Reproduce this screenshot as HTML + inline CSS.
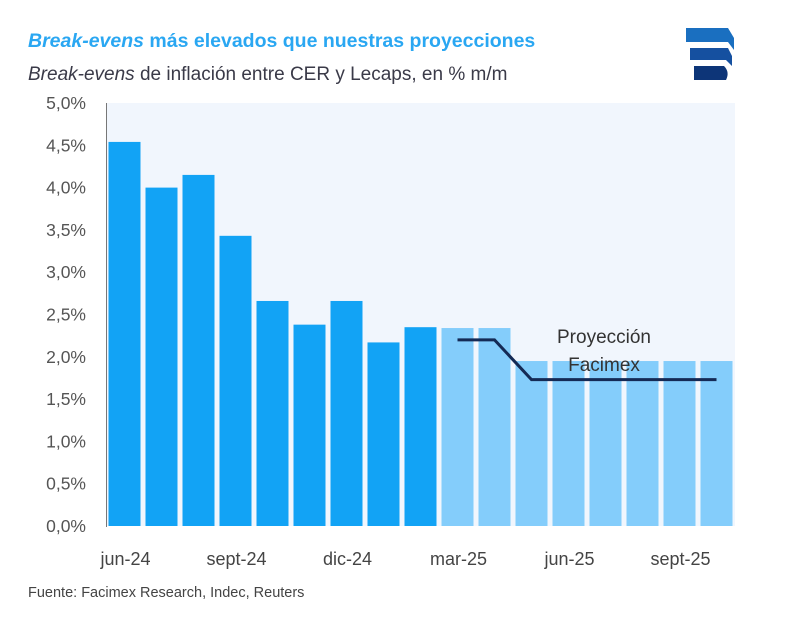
<!DOCTYPE html>
<html><head><meta charset="utf-8"><style>
body{margin:0;background:#fff;width:800px;height:636px;overflow:hidden;font-family:"Liberation Sans",sans-serif}
</style></head><body>
<svg width="800" height="636" viewBox="0 0 800 636">
<text x="28" y="47" font-size="19.5" font-weight="bold" fill="#2aa7f2"><tspan font-style="italic">Break-evens</tspan> más elevados que nuestras proyecciones</text>
<text x="28" y="80" font-size="19" fill="#3a3a48"><tspan font-style="italic">Break-evens</tspan> de inflación entre CER y Lecaps, en % m/m</text>
<g>
<path d="M686 28 L728 28 L734 38 L734 50 L728 42 L686 42 Z" fill="#1a6fc0"/>
<path d="M690 48 L728 48 L732 56 L732 66 L726 60 L690 60 Z" fill="#1550a0"/>
<path d="M694 66 L724 66 Q730 72 726 80 L694 80 Z" fill="#0d3578"/>
</g>
<rect x="106" y="103" width="629" height="423" fill="#f1f6fd"/>
<g id="yaxis"></g><g id="bars"></g><g id="xaxis"></g>
<line x1="106.5" y1="103" x2="106.5" y2="527" stroke="#777" stroke-width="1"/>
<path id="proj" fill="none" stroke="#142a55" stroke-width="3"/>
<text x="604" y="343" font-size="19" fill="#333" text-anchor="middle">Proyección</text>
<text x="604" y="371" font-size="19" fill="#333" text-anchor="middle">Facimex</text>
<text x="28" y="597" font-size="14.5" fill="#444">Fuente: Facimex Research, Indec, Reuters</text>
</svg>
<script>
const months=["jun-24","jul-24","ago-24","sept-24","oct-24","nov-24","dic-24","ene-25","feb-25","mar-25","abr-25","may-25","jun-25","jul-25","ago-25","sept-25","oct-25"];
const breakevens=[4.54,4.0,4.15,3.43,2.66,2.38,2.66,2.17,2.35,2.34,2.34,1.95,1.95,1.95,1.95,1.95,1.95];
const projection=[null,null,null,null,null,null,null,null,null,2.2,2.2,1.73,1.73,1.73,1.73,1.73,1.73];
const firstProjected=9;
const yTicks=[0,0.5,1,1.5,2,2.5,3,3.5,4,4.5,5];
const xLabelIdx=[0,3,6,9,12,15];
const ns="http://www.w3.org/2000/svg";
const x0=106,step=629/months.length,bw=32,y0=526,pxPer=84.6;
const xs=i=>x0+step*i+step/2;
const ys=v=>y0-v*pxPer;
function mk(t,a,p){const e=document.createElementNS(ns,t);for(const k in a)e.setAttribute(k,a[k]);p.appendChild(e);return e;}
const ya=document.getElementById('yaxis');
yTicks.forEach(v=>{const t=mk('text',{x:86,y:ys(v)+6,'font-size':17.5,fill:'#555','text-anchor':'end'},ya);t.textContent=v.toFixed(1).replace('.',',')+'%';

});
const bg=document.getElementById('bars');
breakevens.forEach((v,i)=>{const r=mk('rect',{x:xs(i)-bw/2,y:ys(v),width:bw,height:v*pxPer,fill:i>=firstProjected?'#84cdfb':'#12a3f5'},bg);

});
const xa=document.getElementById('xaxis');
xLabelIdx.forEach(i=>{const t=mk('text',{x:xs(i)+1,y:565,'font-size':18,fill:'#444','text-anchor':'middle'},xa);t.textContent=months[i];

});
let d='';projection.forEach((v,i)=>{if(v==null)return;d+=(d?'L':'M')+xs(i)+' '+ys(v)+' ';});
document.getElementById('proj').setAttribute('d',d);
</script>
</body></html>
